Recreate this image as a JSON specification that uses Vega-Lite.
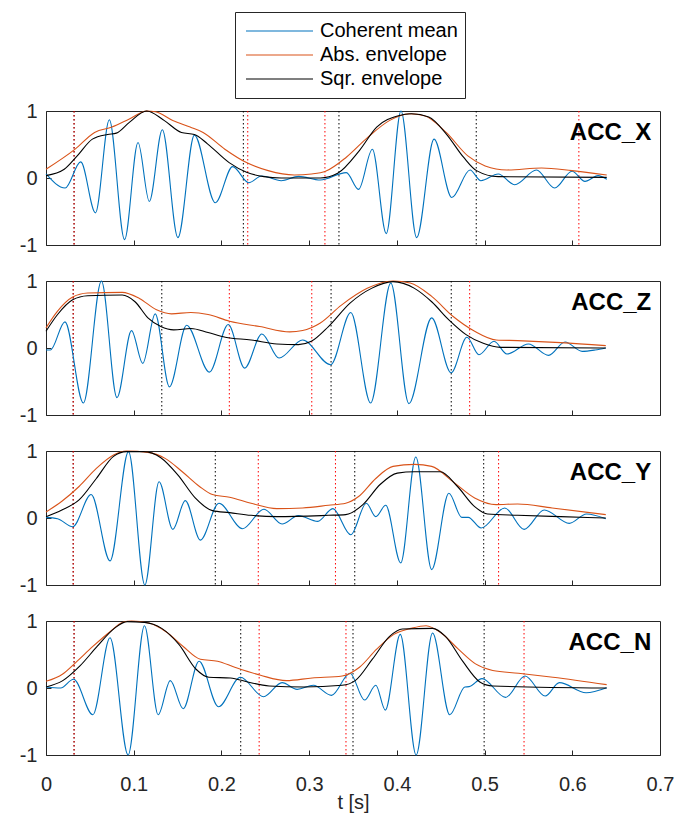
{
  "$schema": "https://vega.github.io/schema/vega-lite/v6.json",
  "padding": {"left": 18, "top": 11, "right": 5, "bottom": 5},
  "bounds": "flush",
  "spacing": 36,
  "background": "white",
  "config": {
    "font": "Liberation Sans",
    "view": {"stroke": "#262626", "strokeWidth": 1},
    "axis": {"grid": false, "domain": false, "tickColor": "#262626", "labelColor": "#262626", "titleColor": "#262626", "labelFont": "Liberation Sans", "titleFont": "Liberation Sans", "labelFontSize": 20, "titleFontSize": 20, "titleFontWeight": "normal", "labelFlush": false, "labelOverlap": false, "labelBound": false},
    "legend": {"orient": "none", "legendX": 189, "legendY": -99, "strokeColor": "#262626", "fillColor": "#ffffff", "padding": 7, "labelFontSize": 20, "labelFont": "Liberation Sans", "labelColor": "#000000", "symbolType": "stroke", "symbolSize": 4489, "symbolStrokeWidth": 1.2, "clipHeight": 24, "symbolOffset": 3, "labelOffset": 6, "rowPadding": 0}
  },
  "datasets": {
    "vl": [
      {"panel": "ACC_X", "kind": "sqr", "t": 0.032}, {"panel": "ACC_X", "kind": "sqr", "t": 0.225}, {"panel": "ACC_X", "kind": "sqr", "t": 0.334}, {"panel": "ACC_X", "kind": "sqr", "t": 0.4905},
      {"panel": "ACC_X", "kind": "abs", "t": 0.032}, {"panel": "ACC_X", "kind": "abs", "t": 0.230}, {"panel": "ACC_X", "kind": "abs", "t": 0.318}, {"panel": "ACC_X", "kind": "abs", "t": 0.6075},
      {"panel": "ACC_Z", "kind": "sqr", "t": 0.031}, {"panel": "ACC_Z", "kind": "sqr", "t": 0.132}, {"panel": "ACC_Z", "kind": "sqr", "t": 0.325}, {"panel": "ACC_Z", "kind": "sqr", "t": 0.462},
      {"panel": "ACC_Z", "kind": "abs", "t": 0.031}, {"panel": "ACC_Z", "kind": "abs", "t": 0.209}, {"panel": "ACC_Z", "kind": "abs", "t": 0.303}, {"panel": "ACC_Z", "kind": "abs", "t": 0.483},
      {"panel": "ACC_Y", "kind": "sqr", "t": 0.031}, {"panel": "ACC_Y", "kind": "sqr", "t": 0.193}, {"panel": "ACC_Y", "kind": "sqr", "t": 0.352}, {"panel": "ACC_Y", "kind": "sqr", "t": 0.499},
      {"panel": "ACC_Y", "kind": "abs", "t": 0.031}, {"panel": "ACC_Y", "kind": "abs", "t": 0.242}, {"panel": "ACC_Y", "kind": "abs", "t": 0.330}, {"panel": "ACC_Y", "kind": "abs", "t": 0.516},
      {"panel": "ACC_N", "kind": "sqr", "t": 0.032}, {"panel": "ACC_N", "kind": "sqr", "t": 0.222}, {"panel": "ACC_N", "kind": "sqr", "t": 0.350}, {"panel": "ACC_N", "kind": "sqr", "t": 0.4995},
      {"panel": "ACC_N", "kind": "abs", "t": 0.032}, {"panel": "ACC_N", "kind": "abs", "t": 0.243}, {"panel": "ACC_N", "kind": "abs", "t": 0.342}, {"panel": "ACC_N", "kind": "abs", "t": 0.545}
    ],
    "lab": [
      {"panel": "ACC_X", "name": "ACC_X"}, {"panel": "ACC_Z", "name": "ACC_Z"}, {"panel": "ACC_Y", "name": "ACC_Y"}, {"panel": "ACC_N", "name": "ACC_N"}
    ],
    "sig": [
      {"panel":"ACC_X","series":"Coherent mean","t":0,"v":0.06},{"panel":"ACC_X","series":"Coherent mean","t":0.0218,"v":-0.15},{"panel":"ACC_X","series":"Coherent mean","t":0.0396,"v":0.24},{"panel":"ACC_X","series":"Coherent mean","t":0.0564,"v":-0.52},{"panel":"ACC_X","series":"Coherent mean","t":0.0722,"v":0.87},{"panel":"ACC_X","series":"Coherent mean","t":0.0896,"v":-0.92},{"panel":"ACC_X","series":"Coherent mean","t":0.1049,"v":0.53},{"panel":"ACC_X","series":"Coherent mean","t":0.1178,"v":-0.35},{"panel":"ACC_X","series":"Coherent mean","t":0.1326,"v":0.72},{"panel":"ACC_X","series":"Coherent mean","t":0.1504,"v":-0.89},{"panel":"ACC_X","series":"Coherent mean","t":0.1692,"v":0.64},{"panel":"ACC_X","series":"Coherent mean","t":0.193,"v":-0.37},{"panel":"ACC_X","series":"Coherent mean","t":0.2128,"v":0.17},{"panel":"ACC_X","series":"Coherent mean","t":0.2311,"v":-0.07},{"panel":"ACC_X","series":"Coherent mean","t":0.2459,"v":0.03},{"panel":"ACC_X","series":"Coherent mean","t":0.2682,"v":-0.04},{"panel":"ACC_X","series":"Coherent mean","t":0.288,"v":0.025},{"panel":"ACC_X","series":"Coherent mean","t":0.3127,"v":-0.03},{"panel":"ACC_X","series":"Coherent mean","t":0.3424,"v":0.08},{"panel":"ACC_X","series":"Coherent mean","t":0.3563,"v":-0.17},{"panel":"ACC_X","series":"Coherent mean","t":0.3721,"v":0.43},{"panel":"ACC_X","series":"Coherent mean","t":0.3879,"v":-0.83},{"panel":"ACC_X","series":"Coherent mean","t":0.4047,"v":1.0},{"panel":"ACC_X","series":"Coherent mean","t":0.4226,"v":-0.89},{"panel":"ACC_X","series":"Coherent mean","t":0.4424,"v":0.58},{"panel":"ACC_X","series":"Coherent mean","t":0.4626,"v":-0.29},{"panel":"ACC_X","series":"Coherent mean","t":0.4834,"v":0.12},{"panel":"ACC_X","series":"Coherent mean","t":0.4958,"v":-0.04},{"panel":"ACC_X","series":"Coherent mean","t":0.5156,"v":0.06},{"panel":"ACC_X","series":"Coherent mean","t":0.5344,"v":-0.1},{"panel":"ACC_X","series":"Coherent mean","t":0.5591,"v":0.12},{"panel":"ACC_X","series":"Coherent mean","t":0.5799,"v":-0.15},{"panel":"ACC_X","series":"Coherent mean","t":0.5997,"v":0.1},{"panel":"ACC_X","series":"Coherent mean","t":0.6145,"v":-0.05},{"panel":"ACC_X","series":"Coherent mean","t":0.6294,"v":0.035},{"panel":"ACC_X","series":"Coherent mean","t":0.6393,"v":-0.02},
      {"panel":"ACC_X","series":"Abs. envelope","t":0,"v":0.13},{"panel":"ACC_X","series":"Abs. envelope","t":0.0332,"v":0.43},{"panel":"ACC_X","series":"Abs. envelope","t":0.0554,"v":0.68},{"panel":"ACC_X","series":"Abs. envelope","t":0.0752,"v":0.76},{"panel":"ACC_X","series":"Abs. envelope","t":0.095,"v":0.88},{"panel":"ACC_X","series":"Abs. envelope","t":0.1148,"v":1.0},{"panel":"ACC_X","series":"Abs. envelope","t":0.1247,"v":0.99},{"panel":"ACC_X","series":"Abs. envelope","t":0.1445,"v":0.86},{"panel":"ACC_X","series":"Abs. envelope","t":0.1643,"v":0.76},{"panel":"ACC_X","series":"Abs. envelope","t":0.1791,"v":0.68},{"panel":"ACC_X","series":"Abs. envelope","t":0.2039,"v":0.43},{"panel":"ACC_X","series":"Abs. envelope","t":0.2286,"v":0.23},{"panel":"ACC_X","series":"Abs. envelope","t":0.2533,"v":0.11},{"panel":"ACC_X","series":"Abs. envelope","t":0.283,"v":0.045},{"panel":"ACC_X","series":"Abs. envelope","t":0.3028,"v":0.06},{"panel":"ACC_X","series":"Abs. envelope","t":0.3187,"v":0.1},{"panel":"ACC_X","series":"Abs. envelope","t":0.3424,"v":0.31},{"panel":"ACC_X","series":"Abs. envelope","t":0.3671,"v":0.61},{"panel":"ACC_X","series":"Abs. envelope","t":0.3919,"v":0.86},{"panel":"ACC_X","series":"Abs. envelope","t":0.4141,"v":0.96},{"panel":"ACC_X","series":"Abs. envelope","t":0.4315,"v":0.93},{"panel":"ACC_X","series":"Abs. envelope","t":0.4562,"v":0.68},{"panel":"ACC_X","series":"Abs. envelope","t":0.4809,"v":0.33},{"panel":"ACC_X","series":"Abs. envelope","t":0.5007,"v":0.18},{"panel":"ACC_X","series":"Abs. envelope","t":0.5255,"v":0.12},{"panel":"ACC_X","series":"Abs. envelope","t":0.5651,"v":0.15},{"panel":"ACC_X","series":"Abs. envelope","t":0.5997,"v":0.11},{"panel":"ACC_X","series":"Abs. envelope","t":0.6393,"v":0.045},
      {"panel":"ACC_X","series":"Sqr. envelope","t":0,"v":0.035},{"panel":"ACC_X","series":"Sqr. envelope","t":0.0208,"v":0.13},{"panel":"ACC_X","series":"Sqr. envelope","t":0.0356,"v":0.33},{"panel":"ACC_X","series":"Sqr. envelope","t":0.0529,"v":0.58},{"panel":"ACC_X","series":"Sqr. envelope","t":0.0703,"v":0.65},{"panel":"ACC_X","series":"Sqr. envelope","t":0.0802,"v":0.67},{"panel":"ACC_X","series":"Sqr. envelope","t":0.095,"v":0.83},{"panel":"ACC_X","series":"Sqr. envelope","t":0.1148,"v":1.0},{"panel":"ACC_X","series":"Sqr. envelope","t":0.1346,"v":0.86},{"panel":"ACC_X","series":"Sqr. envelope","t":0.1544,"v":0.68},{"panel":"ACC_X","series":"Sqr. envelope","t":0.1692,"v":0.65},{"panel":"ACC_X","series":"Sqr. envelope","t":0.1841,"v":0.51},{"panel":"ACC_X","series":"Sqr. envelope","t":0.2088,"v":0.23},{"panel":"ACC_X","series":"Sqr. envelope","t":0.2286,"v":0.085},{"panel":"ACC_X","series":"Sqr. envelope","t":0.2484,"v":0.02},{"panel":"ACC_X","series":"Sqr. envelope","t":0.2682,"v":0.0},{"panel":"ACC_X","series":"Sqr. envelope","t":0.3127,"v":0.0},{"panel":"ACC_X","series":"Sqr. envelope","t":0.3325,"v":0.07},{"panel":"ACC_X","series":"Sqr. envelope","t":0.3573,"v":0.41},{"panel":"ACC_X","series":"Sqr. envelope","t":0.377,"v":0.76},{"panel":"ACC_X","series":"Sqr. envelope","t":0.4018,"v":0.93},{"panel":"ACC_X","series":"Sqr. envelope","t":0.4166,"v":0.96},{"panel":"ACC_X","series":"Sqr. envelope","t":0.4364,"v":0.91},{"panel":"ACC_X","series":"Sqr. envelope","t":0.4562,"v":0.66},{"panel":"ACC_X","series":"Sqr. envelope","t":0.476,"v":0.31},{"panel":"ACC_X","series":"Sqr. envelope","t":0.4908,"v":0.11},{"panel":"ACC_X","series":"Sqr. envelope","t":0.5156,"v":0.02},{"panel":"ACC_X","series":"Sqr. envelope","t":0.6393,"v":0.01},

      {"panel":"ACC_Z","series":"Coherent mean","t":0,"v":-0.03},{"panel":"ACC_Z","series":"Coherent mean","t":0.005,"v":-0.03},{"panel":"ACC_Z","series":"Coherent mean","t":0.0216,"v":0.39},{"panel":"ACC_Z","series":"Coherent mean","t":0.0426,"v":-0.82},{"panel":"ACC_Z","series":"Coherent mean","t":0.0632,"v":1.0},{"panel":"ACC_Z","series":"Coherent mean","t":0.0809,"v":-0.74},{"panel":"ACC_Z","series":"Coherent mean","t":0.0975,"v":0.26},{"panel":"ACC_Z","series":"Coherent mean","t":0.1103,"v":-0.23},{"panel":"ACC_Z","series":"Coherent mean","t":0.1245,"v":0.51},{"panel":"ACC_Z","series":"Coherent mean","t":0.1407,"v":-0.58},{"panel":"ACC_Z","series":"Coherent mean","t":0.1603,"v":0.34},{"panel":"ACC_Z","series":"Coherent mean","t":0.1863,"v":-0.36},{"panel":"ACC_Z","series":"Coherent mean","t":0.2078,"v":0.35},{"panel":"ACC_Z","series":"Coherent mean","t":0.2265,"v":-0.3},{"panel":"ACC_Z","series":"Coherent mean","t":0.2461,"v":0.21},{"panel":"ACC_Z","series":"Coherent mean","t":0.2657,"v":-0.15},{"panel":"ACC_Z","series":"Coherent mean","t":0.2926,"v":0.12},{"panel":"ACC_Z","series":"Coherent mean","t":0.3245,"v":-0.25},{"panel":"ACC_Z","series":"Coherent mean","t":0.3475,"v":0.53},{"panel":"ACC_Z","series":"Coherent mean","t":0.3701,"v":-0.82},{"panel":"ACC_Z","series":"Coherent mean","t":0.3931,"v":0.97},{"panel":"ACC_Z","series":"Coherent mean","t":0.4137,"v":-0.83},{"panel":"ACC_Z","series":"Coherent mean","t":0.4397,"v":0.45},{"panel":"ACC_Z","series":"Coherent mean","t":0.4618,"v":-0.37},{"panel":"ACC_Z","series":"Coherent mean","t":0.4799,"v":0.16},{"panel":"ACC_Z","series":"Coherent mean","t":0.4936,"v":-0.1},{"panel":"ACC_Z","series":"Coherent mean","t":0.5108,"v":0.1},{"panel":"ACC_Z","series":"Coherent mean","t":0.5255,"v":-0.09},{"panel":"ACC_Z","series":"Coherent mean","t":0.55,"v":0.06},{"panel":"ACC_Z","series":"Coherent mean","t":0.573,"v":-0.11},{"panel":"ACC_Z","series":"Coherent mean","t":0.5917,"v":0.09},{"panel":"ACC_Z","series":"Coherent mean","t":0.6113,"v":-0.05},{"panel":"ACC_Z","series":"Coherent mean","t":0.626,"v":-0.03},{"panel":"ACC_Z","series":"Coherent mean","t":0.6382,"v":0.0},
      {"panel":"ACC_Z","series":"Abs. envelope","t":0,"v":0.3},{"panel":"ACC_Z","series":"Abs. envelope","t":0.0132,"v":0.55},{"panel":"ACC_Z","series":"Abs. envelope","t":0.0304,"v":0.76},{"panel":"ACC_Z","series":"Abs. envelope","t":0.0475,"v":0.82},{"panel":"ACC_Z","series":"Abs. envelope","t":0.0868,"v":0.83},{"panel":"ACC_Z","series":"Abs. envelope","t":0.1064,"v":0.74},{"panel":"ACC_Z","series":"Abs. envelope","t":0.126,"v":0.57},{"panel":"ACC_Z","series":"Abs. envelope","t":0.1431,"v":0.51},{"panel":"ACC_Z","series":"Abs. envelope","t":0.1652,"v":0.53},{"panel":"ACC_Z","series":"Abs. envelope","t":0.1848,"v":0.5},{"panel":"ACC_Z","series":"Abs. envelope","t":0.2093,"v":0.4},{"panel":"ACC_Z","series":"Abs. envelope","t":0.2436,"v":0.32},{"panel":"ACC_Z","series":"Abs. envelope","t":0.2779,"v":0.24},{"panel":"ACC_Z","series":"Abs. envelope","t":0.2926,"v":0.26},{"panel":"ACC_Z","series":"Abs. envelope","t":0.3123,"v":0.37},{"panel":"ACC_Z","series":"Abs. envelope","t":0.3368,"v":0.64},{"panel":"ACC_Z","series":"Abs. envelope","t":0.3662,"v":0.89},{"panel":"ACC_Z","series":"Abs. envelope","t":0.3956,"v":1.0},{"panel":"ACC_Z","series":"Abs. envelope","t":0.4152,"v":0.97},{"panel":"ACC_Z","series":"Abs. envelope","t":0.4397,"v":0.77},{"panel":"ACC_Z","series":"Abs. envelope","t":0.4642,"v":0.47},{"panel":"ACC_Z","series":"Abs. envelope","t":0.4887,"v":0.25},{"panel":"ACC_Z","series":"Abs. envelope","t":0.5132,"v":0.12},{"panel":"ACC_Z","series":"Abs. envelope","t":0.5377,"v":0.11},{"panel":"ACC_Z","series":"Abs. envelope","t":0.5868,"v":0.08},{"panel":"ACC_Z","series":"Abs. envelope","t":0.6382,"v":0.035},
      {"panel":"ACC_Z","series":"Sqr. envelope","t":0,"v":0.25},{"panel":"ACC_Z","series":"Sqr. envelope","t":0.0132,"v":0.5},{"panel":"ACC_Z","series":"Sqr. envelope","t":0.0304,"v":0.72},{"panel":"ACC_Z","series":"Sqr. envelope","t":0.0475,"v":0.78},{"panel":"ACC_Z","series":"Sqr. envelope","t":0.0868,"v":0.79},{"panel":"ACC_Z","series":"Sqr. envelope","t":0.1015,"v":0.69},{"panel":"ACC_Z","series":"Sqr. envelope","t":0.1162,"v":0.45},{"panel":"ACC_Z","series":"Sqr. envelope","t":0.1309,"v":0.32},{"panel":"ACC_Z","series":"Sqr. envelope","t":0.1456,"v":0.27},{"panel":"ACC_Z","series":"Sqr. envelope","t":0.1652,"v":0.29},{"panel":"ACC_Z","series":"Sqr. envelope","t":0.1848,"v":0.23},{"panel":"ACC_Z","series":"Sqr. envelope","t":0.2044,"v":0.16},{"panel":"ACC_Z","series":"Sqr. envelope","t":0.2338,"v":0.12},{"panel":"ACC_Z","series":"Sqr. envelope","t":0.2632,"v":0.06},{"panel":"ACC_Z","series":"Sqr. envelope","t":0.2877,"v":0.05},{"panel":"ACC_Z","series":"Sqr. envelope","t":0.3025,"v":0.1},{"panel":"ACC_Z","series":"Sqr. envelope","t":0.322,"v":0.32},{"panel":"ACC_Z","series":"Sqr. envelope","t":0.3466,"v":0.67},{"panel":"ACC_Z","series":"Sqr. envelope","t":0.3711,"v":0.89},{"panel":"ACC_Z","series":"Sqr. envelope","t":0.3956,"v":0.99},{"panel":"ACC_Z","series":"Sqr. envelope","t":0.4201,"v":0.89},{"panel":"ACC_Z","series":"Sqr. envelope","t":0.4397,"v":0.69},{"panel":"ACC_Z","series":"Sqr. envelope","t":0.4593,"v":0.42},{"panel":"ACC_Z","series":"Sqr. envelope","t":0.4789,"v":0.2},{"panel":"ACC_Z","series":"Sqr. envelope","t":0.4985,"v":0.07},{"panel":"ACC_Z","series":"Sqr. envelope","t":0.5181,"v":0.01},{"panel":"ACC_Z","series":"Sqr. envelope","t":0.6382,"v":0.0},

      {"panel":"ACC_Y","series":"Coherent mean","t":0,"v":0.01},{"panel":"ACC_Y","series":"Coherent mean","t":0.0132,"v":-0.01},{"panel":"ACC_Y","series":"Coherent mean","t":0.0304,"v":-0.13},{"panel":"ACC_Y","series":"Coherent mean","t":0.0515,"v":0.35},{"panel":"ACC_Y","series":"Coherent mean","t":0.073,"v":-0.64},{"panel":"ACC_Y","series":"Coherent mean","t":0.0941,"v":0.99},{"panel":"ACC_Y","series":"Coherent mean","t":0.1127,"v":-1.0},{"panel":"ACC_Y","series":"Coherent mean","t":0.1289,"v":0.54},{"panel":"ACC_Y","series":"Coherent mean","t":0.1446,"v":-0.17},{"panel":"ACC_Y","series":"Coherent mean","t":0.1588,"v":0.26},{"panel":"ACC_Y","series":"Coherent mean","t":0.176,"v":-0.33},{"panel":"ACC_Y","series":"Coherent mean","t":0.1971,"v":0.22},{"panel":"ACC_Y","series":"Coherent mean","t":0.224,"v":-0.16},{"panel":"ACC_Y","series":"Coherent mean","t":0.2485,"v":0.13},{"panel":"ACC_Y","series":"Coherent mean","t":0.2691,"v":-0.09},{"panel":"ACC_Y","series":"Coherent mean","t":0.2877,"v":0.035},{"panel":"ACC_Y","series":"Coherent mean","t":0.3098,"v":-0.05},{"panel":"ACC_Y","series":"Coherent mean","t":0.327,"v":0.14},{"panel":"ACC_Y","series":"Coherent mean","t":0.3475,"v":-0.25},{"panel":"ACC_Y","series":"Coherent mean","t":0.3652,"v":0.22},{"panel":"ACC_Y","series":"Coherent mean","t":0.376,"v":0.02},{"panel":"ACC_Y","series":"Coherent mean","t":0.3873,"v":0.19},{"panel":"ACC_Y","series":"Coherent mean","t":0.4044,"v":-0.67},{"panel":"ACC_Y","series":"Coherent mean","t":0.4216,"v":0.91},{"panel":"ACC_Y","series":"Coherent mean","t":0.4397,"v":-0.77},{"panel":"ACC_Y","series":"Coherent mean","t":0.4593,"v":0.37},{"panel":"ACC_Y","series":"Coherent mean","t":0.474,"v":0.01},{"panel":"ACC_Y","series":"Coherent mean","t":0.4814,"v":0.01},{"panel":"ACC_Y","series":"Coherent mean","t":0.4961,"v":-0.15},{"panel":"ACC_Y","series":"Coherent mean","t":0.523,"v":0.15},{"panel":"ACC_Y","series":"Coherent mean","t":0.5451,"v":-0.17},{"panel":"ACC_Y","series":"Coherent mean","t":0.5681,"v":0.12},{"panel":"ACC_Y","series":"Coherent mean","t":0.5966,"v":-0.08},{"panel":"ACC_Y","series":"Coherent mean","t":0.6162,"v":0.06},{"panel":"ACC_Y","series":"Coherent mean","t":0.6382,"v":-0.01},
      {"panel":"ACC_Y","series":"Abs. envelope","t":0,"v":0.09},{"panel":"ACC_Y","series":"Abs. envelope","t":0.0181,"v":0.25},{"panel":"ACC_Y","series":"Abs. envelope","t":0.0377,"v":0.47},{"panel":"ACC_Y","series":"Abs. envelope","t":0.0574,"v":0.74},{"panel":"ACC_Y","series":"Abs. envelope","t":0.077,"v":0.94},{"panel":"ACC_Y","series":"Abs. envelope","t":0.0917,"v":1.0},{"panel":"ACC_Y","series":"Abs. envelope","t":0.1162,"v":0.98},{"panel":"ACC_Y","series":"Abs. envelope","t":0.1358,"v":0.89},{"panel":"ACC_Y","series":"Abs. envelope","t":0.1554,"v":0.69},{"panel":"ACC_Y","series":"Abs. envelope","t":0.175,"v":0.47},{"panel":"ACC_Y","series":"Abs. envelope","t":0.1897,"v":0.35},{"panel":"ACC_Y","series":"Abs. envelope","t":0.2093,"v":0.31},{"panel":"ACC_Y","series":"Abs. envelope","t":0.2338,"v":0.22},{"panel":"ACC_Y","series":"Abs. envelope","t":0.2632,"v":0.14},{"panel":"ACC_Y","series":"Abs. envelope","t":0.2926,"v":0.15},{"panel":"ACC_Y","series":"Abs. envelope","t":0.322,"v":0.19},{"panel":"ACC_Y","series":"Abs. envelope","t":0.3417,"v":0.22},{"panel":"ACC_Y","series":"Abs. envelope","t":0.3564,"v":0.32},{"panel":"ACC_Y","series":"Abs. envelope","t":0.376,"v":0.59},{"panel":"ACC_Y","series":"Abs. envelope","t":0.3956,"v":0.77},{"panel":"ACC_Y","series":"Abs. envelope","t":0.4201,"v":0.8},{"panel":"ACC_Y","series":"Abs. envelope","t":0.4397,"v":0.77},{"panel":"ACC_Y","series":"Abs. envelope","t":0.4642,"v":0.54},{"panel":"ACC_Y","series":"Abs. envelope","t":0.4887,"v":0.3},{"panel":"ACC_Y","series":"Abs. envelope","t":0.5132,"v":0.2},{"panel":"ACC_Y","series":"Abs. envelope","t":0.5377,"v":0.21},{"panel":"ACC_Y","series":"Abs. envelope","t":0.577,"v":0.15},{"panel":"ACC_Y","series":"Abs. envelope","t":0.6382,"v":0.05},
      {"panel":"ACC_Y","series":"Sqr. envelope","t":0,"v":0.02},{"panel":"ACC_Y","series":"Sqr. envelope","t":0.0181,"v":0.12},{"panel":"ACC_Y","series":"Sqr. envelope","t":0.0377,"v":0.27},{"panel":"ACC_Y","series":"Sqr. envelope","t":0.0574,"v":0.59},{"panel":"ACC_Y","series":"Sqr. envelope","t":0.077,"v":0.92},{"panel":"ACC_Y","series":"Sqr. envelope","t":0.0917,"v":0.99},{"panel":"ACC_Y","series":"Sqr. envelope","t":0.1113,"v":0.99},{"panel":"ACC_Y","series":"Sqr. envelope","t":0.1309,"v":0.9},{"panel":"ACC_Y","series":"Sqr. envelope","t":0.1505,"v":0.64},{"panel":"ACC_Y","series":"Sqr. envelope","t":0.1701,"v":0.3},{"panel":"ACC_Y","series":"Sqr. envelope","t":0.1897,"v":0.11},{"panel":"ACC_Y","series":"Sqr. envelope","t":0.2093,"v":0.08},{"panel":"ACC_Y","series":"Sqr. envelope","t":0.2338,"v":0.04},{"panel":"ACC_Y","series":"Sqr. envelope","t":0.2632,"v":0.02},{"panel":"ACC_Y","series":"Sqr. envelope","t":0.322,"v":0.04},{"panel":"ACC_Y","series":"Sqr. envelope","t":0.3417,"v":0.05},{"panel":"ACC_Y","series":"Sqr. envelope","t":0.3613,"v":0.2},{"panel":"ACC_Y","series":"Sqr. envelope","t":0.3809,"v":0.5},{"panel":"ACC_Y","series":"Sqr. envelope","t":0.4005,"v":0.67},{"panel":"ACC_Y","series":"Sqr. envelope","t":0.4201,"v":0.69},{"panel":"ACC_Y","series":"Sqr. envelope","t":0.4495,"v":0.69},{"panel":"ACC_Y","series":"Sqr. envelope","t":0.4691,"v":0.47},{"panel":"ACC_Y","series":"Sqr. envelope","t":0.4887,"v":0.17},{"panel":"ACC_Y","series":"Sqr. envelope","t":0.5034,"v":0.06},{"panel":"ACC_Y","series":"Sqr. envelope","t":0.5377,"v":0.04},{"panel":"ACC_Y","series":"Sqr. envelope","t":0.5868,"v":0.02},{"panel":"ACC_Y","series":"Sqr. envelope","t":0.6382,"v":0.0},

      {"panel":"ACC_N","series":"Coherent mean","t":0,"v":0.015},{"panel":"ACC_N","series":"Coherent mean","t":0.0167,"v":0.0},{"panel":"ACC_N","series":"Coherent mean","t":0.0314,"v":0.13},{"panel":"ACC_N","series":"Coherent mean","t":0.0534,"v":-0.4},{"panel":"ACC_N","series":"Coherent mean","t":0.073,"v":0.75},{"panel":"ACC_N","series":"Coherent mean","t":0.0936,"v":-1.0},{"panel":"ACC_N","series":"Coherent mean","t":0.1123,"v":0.93},{"panel":"ACC_N","series":"Coherent mean","t":0.1279,"v":-0.4},{"panel":"ACC_N","series":"Coherent mean","t":0.1417,"v":0.11},{"panel":"ACC_N","series":"Coherent mean","t":0.1564,"v":-0.31},{"panel":"ACC_N","series":"Coherent mean","t":0.1745,"v":0.4},{"panel":"ACC_N","series":"Coherent mean","t":0.1966,"v":-0.28},{"panel":"ACC_N","series":"Coherent mean","t":0.2216,"v":0.16},{"panel":"ACC_N","series":"Coherent mean","t":0.248,"v":-0.13},{"panel":"ACC_N","series":"Coherent mean","t":0.2691,"v":0.08},{"panel":"ACC_N","series":"Coherent mean","t":0.2863,"v":-0.02},{"panel":"ACC_N","series":"Coherent mean","t":0.3049,"v":0.04},{"panel":"ACC_N","series":"Coherent mean","t":0.3255,"v":-0.11},{"panel":"ACC_N","series":"Coherent mean","t":0.3466,"v":0.22},{"panel":"ACC_N","series":"Coherent mean","t":0.3632,"v":-0.18},{"panel":"ACC_N","series":"Coherent mean","t":0.376,"v":0.04},{"panel":"ACC_N","series":"Coherent mean","t":0.3868,"v":-0.33},{"panel":"ACC_N","series":"Coherent mean","t":0.4039,"v":0.8},{"panel":"ACC_N","series":"Coherent mean","t":0.422,"v":-1.0},{"panel":"ACC_N","series":"Coherent mean","t":0.4407,"v":0.82},{"panel":"ACC_N","series":"Coherent mean","t":0.4603,"v":-0.4},{"panel":"ACC_N","series":"Coherent mean","t":0.4775,"v":0.015},{"panel":"ACC_N","series":"Coherent mean","t":0.4824,"v":0.02},{"panel":"ACC_N","series":"Coherent mean","t":0.4971,"v":0.14},{"panel":"ACC_N","series":"Coherent mean","t":0.524,"v":-0.14},{"panel":"ACC_N","series":"Coherent mean","t":0.5461,"v":0.18},{"panel":"ACC_N","series":"Coherent mean","t":0.5691,"v":-0.12},{"panel":"ACC_N","series":"Coherent mean","t":0.5853,"v":0.08},{"panel":"ACC_N","series":"Coherent mean","t":0.6157,"v":-0.07},{"panel":"ACC_N","series":"Coherent mean","t":0.6392,"v":0.005},
      {"panel":"ACC_N","series":"Abs. envelope","t":0,"v":0.1},{"panel":"ACC_N","series":"Abs. envelope","t":0.0191,"v":0.21},{"panel":"ACC_N","series":"Abs. envelope","t":0.0338,"v":0.38},{"panel":"ACC_N","series":"Abs. envelope","t":0.0534,"v":0.62},{"panel":"ACC_N","series":"Abs. envelope","t":0.073,"v":0.84},{"panel":"ACC_N","series":"Abs. envelope","t":0.0877,"v":0.98},{"panel":"ACC_N","series":"Abs. envelope","t":0.0975,"v":1.0},{"panel":"ACC_N","series":"Abs. envelope","t":0.1172,"v":0.97},{"panel":"ACC_N","series":"Abs. envelope","t":0.1368,"v":0.84},{"panel":"ACC_N","series":"Abs. envelope","t":0.1564,"v":0.62},{"panel":"ACC_N","series":"Abs. envelope","t":0.176,"v":0.43},{"panel":"ACC_N","series":"Abs. envelope","t":0.1956,"v":0.4},{"panel":"ACC_N","series":"Abs. envelope","t":0.2152,"v":0.31},{"panel":"ACC_N","series":"Abs. envelope","t":0.2446,"v":0.19},{"panel":"ACC_N","series":"Abs. envelope","t":0.274,"v":0.11},{"panel":"ACC_N","series":"Abs. envelope","t":0.3034,"v":0.15},{"panel":"ACC_N","series":"Abs. envelope","t":0.3377,"v":0.18},{"panel":"ACC_N","series":"Abs. envelope","t":0.3574,"v":0.31},{"panel":"ACC_N","series":"Abs. envelope","t":0.377,"v":0.58},{"panel":"ACC_N","series":"Abs. envelope","t":0.3966,"v":0.8},{"panel":"ACC_N","series":"Abs. envelope","t":0.4162,"v":0.89},{"panel":"ACC_N","series":"Abs. envelope","t":0.4333,"v":0.93},{"panel":"ACC_N","series":"Abs. envelope","t":0.4505,"v":0.82},{"panel":"ACC_N","series":"Abs. envelope","t":0.4701,"v":0.58},{"panel":"ACC_N","series":"Abs. envelope","t":0.4897,"v":0.36},{"panel":"ACC_N","series":"Abs. envelope","t":0.5093,"v":0.26},{"panel":"ACC_N","series":"Abs. envelope","t":0.5387,"v":0.22},{"panel":"ACC_N","series":"Abs. envelope","t":0.5779,"v":0.16},{"panel":"ACC_N","series":"Abs. envelope","t":0.6392,"v":0.05},
      {"panel":"ACC_N","series":"Sqr. envelope","t":0,"v":0.015},{"panel":"ACC_N","series":"Sqr. envelope","t":0.0191,"v":0.11},{"panel":"ACC_N","series":"Sqr. envelope","t":0.0387,"v":0.33},{"panel":"ACC_N","series":"Sqr. envelope","t":0.0583,"v":0.62},{"panel":"ACC_N","series":"Sqr. envelope","t":0.0779,"v":0.89},{"panel":"ACC_N","series":"Sqr. envelope","t":0.0926,"v":0.99},{"panel":"ACC_N","series":"Sqr. envelope","t":0.1123,"v":0.98},{"panel":"ACC_N","series":"Sqr. envelope","t":0.1319,"v":0.89},{"panel":"ACC_N","series":"Sqr. envelope","t":0.1515,"v":0.65},{"panel":"ACC_N","series":"Sqr. envelope","t":0.1711,"v":0.28},{"panel":"ACC_N","series":"Sqr. envelope","t":0.1858,"v":0.16},{"panel":"ACC_N","series":"Sqr. envelope","t":0.2103,"v":0.15},{"panel":"ACC_N","series":"Sqr. envelope","t":0.2299,"v":0.09},{"panel":"ACC_N","series":"Sqr. envelope","t":0.2544,"v":0.03},{"panel":"ACC_N","series":"Sqr. envelope","t":0.2936,"v":0.015},{"panel":"ACC_N","series":"Sqr. envelope","t":0.3377,"v":0.04},{"panel":"ACC_N","series":"Sqr. envelope","t":0.3525,"v":0.11},{"panel":"ACC_N","series":"Sqr. envelope","t":0.3721,"v":0.43},{"panel":"ACC_N","series":"Sqr. envelope","t":0.3917,"v":0.77},{"panel":"ACC_N","series":"Sqr. envelope","t":0.4064,"v":0.88},{"panel":"ACC_N","series":"Sqr. envelope","t":0.4407,"v":0.89},{"panel":"ACC_N","series":"Sqr. envelope","t":0.4554,"v":0.77},{"panel":"ACC_N","series":"Sqr. envelope","t":0.475,"v":0.4},{"panel":"ACC_N","series":"Sqr. envelope","t":0.4946,"v":0.09},{"panel":"ACC_N","series":"Sqr. envelope","t":0.5093,"v":0.03},{"panel":"ACC_N","series":"Sqr. envelope","t":0.6392,"v":0.0}
    ]
  },
  "vconcat": [
    {
      "width": 614, "height": 134,
      "layer": [
        {"data": {"name": "vl"}, "transform": [{"filter": "datum.panel === 'ACC_X' && datum.kind === 'sqr'"}], "mark": {"type": "rule", "color": "#000000", "strokeDash": [1.5, 2.5], "strokeWidth": 1}, "encoding": {"x": {"field": "t", "type": "quantitative", "scale": {"domain": [0, 0.7], "nice": false, "zero": false}, "axis": {"orient": "bottom", "values": [0, 0.1, 0.2, 0.3, 0.4, 0.5, 0.6, 0.7], "labels": false, "tickSize": -5, "title": null}}}},
        {"data": {"name": "vl"}, "transform": [{"filter": "datum.panel === 'ACC_X' && datum.kind === 'abs'"}], "mark": {"type": "rule", "color": "#ff0000", "strokeDash": [1.5, 2.5], "strokeWidth": 1}, "encoding": {"x": {"field": "t", "type": "quantitative"}}},
        {"data": {"name": "sig"}, "transform": [{"filter": "datum.panel === 'ACC_X'"}], "mark": {"type": "line", "interpolate": "monotone", "strokeWidth": 1.1}, "encoding": {"x": {"field": "t", "type": "quantitative"}, "y": {"field": "v", "type": "quantitative", "scale": {"domain": [-1, 1], "nice": false}, "axis": {"orient": "left", "values": [-1, 0, 1], "labelExpr": "toString(datum.value)", "tickSize": -5, "labelPadding": 14, "title": null}}, "color": {"field": "series", "type": "nominal", "scale": {"domain": ["Coherent mean", "Abs. envelope", "Sqr. envelope"], "range": ["#0072BD", "#D95319", "#000000"]}, "legend": {"title": null}}}},
        {"data": {"name": "lab"}, "transform": [{"filter": "datum.panel === 'ACC_X'"}], "mark": {"type": "text", "align": "right", "baseline": "middle", "fontSize": 24, "fontWeight": "bold", "font": "Liberation Sans", "color": "#000000"}, "encoding": {"x": {"datum": 0.69, "type": "quantitative"}, "y": {"datum": 0.67, "type": "quantitative"}, "text": {"field": "name", "type": "nominal"}}}
      ]
    },
    {
      "width": 614, "height": 134,
      "layer": [
        {"data": {"name": "vl"}, "transform": [{"filter": "datum.panel === 'ACC_Z' && datum.kind === 'sqr'"}], "mark": {"type": "rule", "color": "#000000", "strokeDash": [1.5, 2.5], "strokeWidth": 1}, "encoding": {"x": {"field": "t", "type": "quantitative", "scale": {"domain": [0, 0.7], "nice": false, "zero": false}, "axis": {"orient": "bottom", "values": [0, 0.1, 0.2, 0.3, 0.4, 0.5, 0.6, 0.7], "labels": false, "tickSize": -5, "title": null}}}},
        {"data": {"name": "vl"}, "transform": [{"filter": "datum.panel === 'ACC_Z' && datum.kind === 'abs'"}], "mark": {"type": "rule", "color": "#ff0000", "strokeDash": [1.5, 2.5], "strokeWidth": 1}, "encoding": {"x": {"field": "t", "type": "quantitative"}}},
        {"data": {"name": "sig"}, "transform": [{"filter": "datum.panel === 'ACC_Z'"}], "mark": {"type": "line", "interpolate": "monotone", "strokeWidth": 1.1}, "encoding": {"x": {"field": "t", "type": "quantitative"}, "y": {"field": "v", "type": "quantitative", "scale": {"domain": [-1, 1], "nice": false}, "axis": {"orient": "left", "values": [-1, 0, 1], "labelExpr": "toString(datum.value)", "tickSize": -5, "labelPadding": 14, "title": null}}, "color": {"field": "series", "type": "nominal", "scale": {"domain": ["Coherent mean", "Abs. envelope", "Sqr. envelope"], "range": ["#0072BD", "#D95319", "#000000"]}, "legend": {"title": null}}}},
        {"data": {"name": "lab"}, "transform": [{"filter": "datum.panel === 'ACC_Z'"}], "mark": {"type": "text", "align": "right", "baseline": "middle", "fontSize": 24, "fontWeight": "bold", "font": "Liberation Sans", "color": "#000000"}, "encoding": {"x": {"datum": 0.69, "type": "quantitative"}, "y": {"datum": 0.67, "type": "quantitative"}, "text": {"field": "name", "type": "nominal"}}}
      ]
    },
    {
      "width": 614, "height": 134,
      "layer": [
        {"data": {"name": "vl"}, "transform": [{"filter": "datum.panel === 'ACC_Y' && datum.kind === 'sqr'"}], "mark": {"type": "rule", "color": "#000000", "strokeDash": [1.5, 2.5], "strokeWidth": 1}, "encoding": {"x": {"field": "t", "type": "quantitative", "scale": {"domain": [0, 0.7], "nice": false, "zero": false}, "axis": {"orient": "bottom", "values": [0, 0.1, 0.2, 0.3, 0.4, 0.5, 0.6, 0.7], "labels": false, "tickSize": -5, "title": null}}}},
        {"data": {"name": "vl"}, "transform": [{"filter": "datum.panel === 'ACC_Y' && datum.kind === 'abs'"}], "mark": {"type": "rule", "color": "#ff0000", "strokeDash": [1.5, 2.5], "strokeWidth": 1}, "encoding": {"x": {"field": "t", "type": "quantitative"}}},
        {"data": {"name": "sig"}, "transform": [{"filter": "datum.panel === 'ACC_Y'"}], "mark": {"type": "line", "interpolate": "monotone", "strokeWidth": 1.1}, "encoding": {"x": {"field": "t", "type": "quantitative"}, "y": {"field": "v", "type": "quantitative", "scale": {"domain": [-1, 1], "nice": false}, "axis": {"orient": "left", "values": [-1, 0, 1], "labelExpr": "toString(datum.value)", "tickSize": -5, "labelPadding": 14, "title": null}}, "color": {"field": "series", "type": "nominal", "scale": {"domain": ["Coherent mean", "Abs. envelope", "Sqr. envelope"], "range": ["#0072BD", "#D95319", "#000000"]}, "legend": {"title": null}}}},
        {"data": {"name": "lab"}, "transform": [{"filter": "datum.panel === 'ACC_Y'"}], "mark": {"type": "text", "align": "right", "baseline": "middle", "fontSize": 24, "fontWeight": "bold", "font": "Liberation Sans", "color": "#000000"}, "encoding": {"x": {"datum": 0.69, "type": "quantitative"}, "y": {"datum": 0.67, "type": "quantitative"}, "text": {"field": "name", "type": "nominal"}}}
      ]
    },
    {
      "width": 614, "height": 134,
      "layer": [
        {"data": {"name": "vl"}, "transform": [{"filter": "datum.panel === 'ACC_N' && datum.kind === 'sqr'"}], "mark": {"type": "rule", "color": "#000000", "strokeDash": [1.5, 2.5], "strokeWidth": 1}, "encoding": {"x": {"field": "t", "type": "quantitative", "scale": {"domain": [0, 0.7], "nice": false, "zero": false}, "axis": {"orient": "bottom", "values": [0, 0.1, 0.2, 0.3, 0.4, 0.5, 0.6, 0.7], "labelExpr": "datum.value === 0 ? '0' : format(datum.value, '.1f')", "tickSize": -5, "labelPadding": 24, "title": "t [s]", "titlePadding": -2}}}},
        {"data": {"name": "vl"}, "transform": [{"filter": "datum.panel === 'ACC_N' && datum.kind === 'abs'"}], "mark": {"type": "rule", "color": "#ff0000", "strokeDash": [1.5, 2.5], "strokeWidth": 1}, "encoding": {"x": {"field": "t", "type": "quantitative"}}},
        {"data": {"name": "sig"}, "transform": [{"filter": "datum.panel === 'ACC_N'"}], "mark": {"type": "line", "interpolate": "monotone", "strokeWidth": 1.1}, "encoding": {"x": {"field": "t", "type": "quantitative"}, "y": {"field": "v", "type": "quantitative", "scale": {"domain": [-1, 1], "nice": false}, "axis": {"orient": "left", "values": [-1, 0, 1], "labelExpr": "toString(datum.value)", "tickSize": -5, "labelPadding": 14, "title": null}}, "color": {"field": "series", "type": "nominal", "scale": {"domain": ["Coherent mean", "Abs. envelope", "Sqr. envelope"], "range": ["#0072BD", "#D95319", "#000000"]}, "legend": {"title": null}}}},
        {"data": {"name": "lab"}, "transform": [{"filter": "datum.panel === 'ACC_N'"}], "mark": {"type": "text", "align": "right", "baseline": "middle", "fontSize": 24, "fontWeight": "bold", "font": "Liberation Sans", "color": "#000000"}, "encoding": {"x": {"datum": 0.69, "type": "quantitative"}, "y": {"datum": 0.67, "type": "quantitative"}, "text": {"field": "name", "type": "nominal"}}}
      ]
    }
  ]
}
